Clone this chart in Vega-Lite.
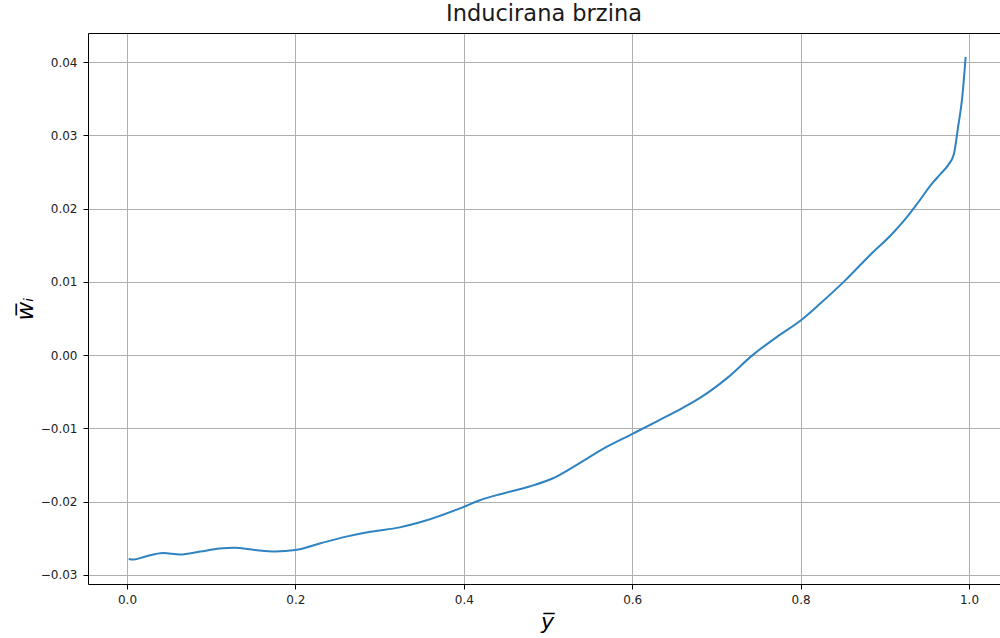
{
  "$schema": "https://vega.github.io/schema/vega-lite/v6.json",
  "autosize": "none",
  "width": 912,
  "height": 551,
  "padding": {"left": 88, "top": 33, "right": 0, "bottom": 54},
  "background": "white",
  "title": {"text": "Inducirana brzina", "font": "DejaVu Sans", "fontSize": 22.5, "fontWeight": "normal", "color": "#1a1a1a", "anchor": "middle", "frame": "group", "dx": 0, "offset": 8},
  "config": {"view": {"stroke": null}},
  "data": {"values": [
    {"y": 0.002, "w": -0.02783},
    {"y": 0.008, "w": -0.0279},
    {"y": 0.021, "w": -0.0275},
    {"y": 0.043, "w": -0.0270},
    {"y": 0.063, "w": -0.0272},
    {"y": 0.087, "w": -0.0268},
    {"y": 0.110, "w": -0.0264},
    {"y": 0.128, "w": -0.0263},
    {"y": 0.152, "w": -0.0266},
    {"y": 0.176, "w": -0.0268},
    {"y": 0.200, "w": -0.0266},
    {"y": 0.229, "w": -0.0257},
    {"y": 0.259, "w": -0.0248},
    {"y": 0.289, "w": -0.0241},
    {"y": 0.324, "w": -0.0235},
    {"y": 0.354, "w": -0.0226},
    {"y": 0.400, "w": -0.0207},
    {"y": 0.419, "w": -0.0198},
    {"y": 0.439, "w": -0.0191},
    {"y": 0.479, "w": -0.0179},
    {"y": 0.506, "w": -0.0168},
    {"y": 0.538, "w": -0.0147},
    {"y": 0.570, "w": -0.0125},
    {"y": 0.601, "w": -0.0107},
    {"y": 0.630, "w": -0.0090},
    {"y": 0.660, "w": -0.0072},
    {"y": 0.681, "w": -0.0058},
    {"y": 0.713, "w": -0.0031},
    {"y": 0.743, "w": 0.0000},
    {"y": 0.772, "w": 0.0025},
    {"y": 0.802, "w": 0.0049},
    {"y": 0.823, "w": 0.0070},
    {"y": 0.853, "w": 0.0102},
    {"y": 0.882, "w": 0.0136},
    {"y": 0.910, "w": 0.0167},
    {"y": 0.926, "w": 0.0188},
    {"y": 0.940, "w": 0.0209},
    {"y": 0.956, "w": 0.0234},
    {"y": 0.966, "w": 0.0247},
    {"y": 0.975, "w": 0.0259},
    {"y": 0.982, "w": 0.0274},
    {"y": 0.987, "w": 0.0311},
    {"y": 0.992, "w": 0.0352},
    {"y": 0.996, "w": 0.0407}
  ]},
  "layer": [
    {
      "mark": {"type": "line", "color": "#2f83c0", "strokeWidth": 2, "interpolate": "monotone"},
      "encoding": {
        "x": {"field": "y", "type": "quantitative",
          "scale": {"domain": [-0.04632, 1.03682], "nice": false, "zero": false},
          "axis": {"orient": "bottom", "values": [0, 0.2, 0.4, 0.6, 0.8, 1.0], "format": ".1f",
            "title": "y̅", "titleFont": "DejaVu Sans", "titleFontSize": 22, "titleFontWeight": "normal", "titleFontStyle": "italic", "titleColor": "#000",
            "titleX": 459, "titleY": 44, "titleBaseline": "alphabetic", "titleAlign": "center",
            "labelFont": "DejaVu Sans", "labelFontSize": 12, "labelColor": "#222", "labelPadding": 5,
            "tickColor": "#000", "tickSize": 5, "tickWidth": 1,
            "domainColor": "#000", "domainWidth": 1,
            "grid": true, "gridColor": "#b0b0b0", "gridWidth": 1}},
        "y": {"field": "w", "type": "quantitative",
          "scale": {"domain": [-0.03123, 0.04396], "nice": false, "zero": false},
          "axis": {"orient": "left", "values": [-0.03, -0.02, -0.01, 0, 0.01, 0.02, 0.03, 0.04], "format": ".2f",
            "title": "w̅ᵢ", "titleFont": "DejaVu Sans", "titleFontSize": 23, "titleFontWeight": "normal", "titleFontStyle": "italic", "titleColor": "#000",
            "titleX": -56, "titleY": 275.5, "titleAngle": -90, "titleBaseline": "alphabetic", "titleAlign": "center",
            "labelFont": "DejaVu Sans", "labelFontSize": 12, "labelColor": "#222", "labelPadding": 6,
            "tickColor": "#000", "tickSize": 5, "tickWidth": 1,
            "domainColor": "#000", "domainWidth": 1,
            "grid": true, "gridColor": "#b0b0b0", "gridWidth": 1}}
      }
    },
    {
      "mark": {"type": "line", "opacity": 0},
      "encoding": {
        "x": {"field": "y", "type": "quantitative",
          "axis": {"orient": "top", "labels": false, "ticks": false, "grid": false, "title": null, "domainColor": "#000", "domainWidth": 1}},
        "y": {"field": "w", "type": "quantitative"}
      }
    }
  ],
  "resolve": {"axis": {"x": "independent"}}
}
